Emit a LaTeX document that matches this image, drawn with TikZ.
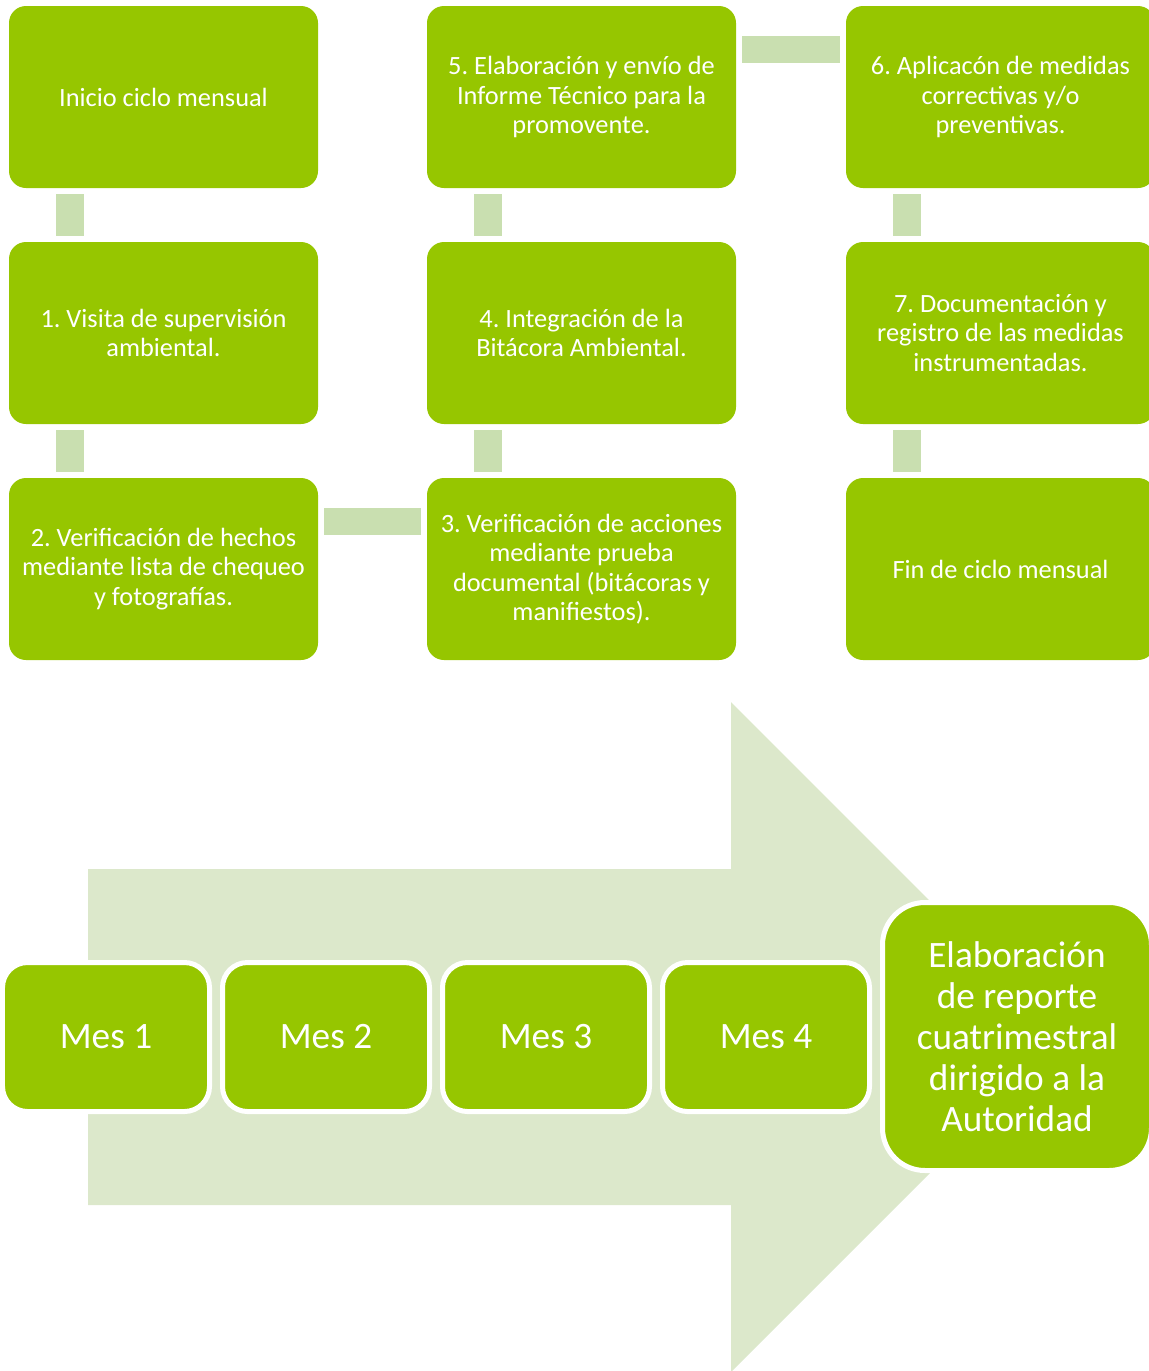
\documentclass[tikz,border=0pt]{standalone}
\usepackage{fontspec}
\setmainfont{Carlito}
\frenchspacing
\usetikzlibrary{calc}
\definecolor{leafgreen}{RGB}{150,198,0}
\definecolor{linkgreen}{RGB}{201,223,176}
\definecolor{arrowgreen}{RGB}{220,232,203}
\tikzset{
  box/.style = {rectangle, rounded corners=0.34cm, fill=leafgreen, text=white, inner sep=0,
    minimum width=6.18cm, minimum height=3.64cm, align=center,
    font=\fontsize{15}{16.8}\selectfont},
  link/.style = {fill=linkgreen},
  mes/.style = {rectangle, rounded corners=0.5cm, fill=leafgreen, draw=white, line width=0.1cm,
    text=white, inner sep=0, minimum width=4.14cm, minimum height=2.98cm,
    font=\fontsize{21.2}{24}\selectfont},
  report/.style = {mes, rounded corners=0.85cm, minimum width=5.38cm, minimum height=5.36cm,
    align=center, font=\fontsize{21.2}{23.3}\selectfont}
}

\begin{document}
\begin{tikzpicture}
  \useasboundingbox (0,0) rectangle (22.98,-27.42);
  \clip (0,0) rectangle (22.98,-27.42);

  % monthly cycle
  \node[box] (s0) at (3.27,-1.94) {Inicio ciclo mensual};
  \node[box] (s1) at (3.27,-6.66) {1. Visita de supervisión\\ambiental.};
  \node[box] (s2) at (3.27,-11.38) {2. Verificación de hechos\\mediante lista de chequeo\\y fotografías.};
  \node[box] (s3) at (11.63,-11.38) {3. Verificación de acciones\\mediante prueba\\documental (bitácoras y\\manifiestos).};
  \node[box] (s4) at (11.63,-6.66) {4. Integración de la\\Bitácora Ambiental.};
  \node[box] (s5) at (11.63,-1.94) {5. Elaboración y envío de\\Informe Técnico para la\\promovente.};
  \node[box] (s6) at (20.01,-1.94) {6. Aplicacón de medidas\\correctivas y/o\\preventivas.};
  \node[box] (s7) at (20.01,-6.66) {7. Documentación y\\registro de las medidas\\instrumentadas.};
  \node[box] (s8) at (20.01,-11.38) {Fin de ciclo mensual};

  \foreach \a/\b in {s0/s1,s1/s2,s5/s4,s4/s3,s6/s7,s7/s8} {
    \fill[link] ($(\a.south west)+(0.94,-0.12)$) rectangle ($(\b.north west)+(1.5,0.12)$);
  }
  \foreach \a/\b in {s2/s3,s5/s6} {
    \fill[link] ($(\a.north east)+(0.12,-0.6)$) rectangle ($(\b.north west)+(-0.12,-1.14)$);
  }

  % four-month report
  \fill[arrowgreen] (1.76,-17.38) -- (14.62,-17.38) -- (14.62,-14.04) -- (21.32,-20.74)
    -- (14.62,-27.44) -- (14.62,-24.10) -- (1.76,-24.10) -- cycle;
  \foreach \i in {1,...,4} {
    \node[mes] (m\i) at ({2.12+(\i-1)*4.4},-20.74) {Mes \i};
  }
  \node[report] (rep) at (20.34,-20.73) {Elaboración\\de reporte\\cuatrimestral\\dirigido a la\\Autoridad};
\end{tikzpicture}
\end{document}
